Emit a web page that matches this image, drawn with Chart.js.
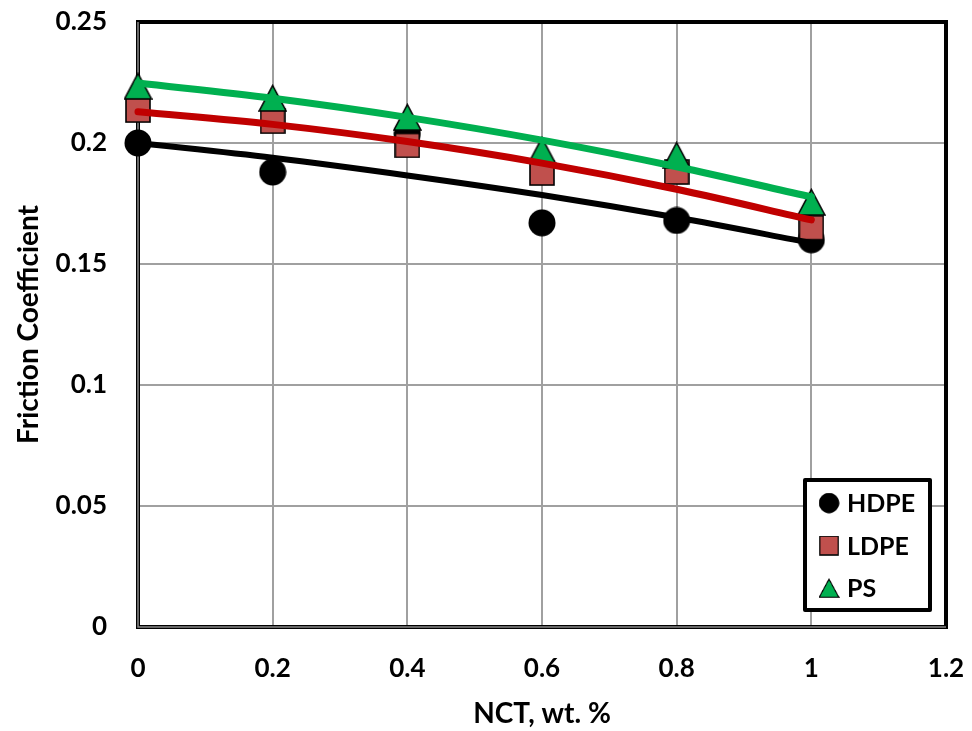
<!DOCTYPE html>
<html>
<head>
<meta charset="utf-8">
<script src="https://cdn.jsdelivr.net/npm/chart.js@4.4.1/dist/chart.umd.min.js"></script>
<style>
  html, body { margin: 0; padding: 0; background: #fff; }
  #wrap { width: 972px; height: 731px; }
</style>
</head>
<body>
<div id="wrap"><canvas id="c" width="972" height="731"></canvas></div>
<script>
// NCT loading (wt. %) and measured friction coefficients
const nct = [0, 0.2, 0.4, 0.6, 0.8, 1.0];
const hdpe = [0.200, 0.188, 0.204, 0.167, 0.168, 0.160];
const ldpe = [0.2136, 0.209, 0.199, 0.1876, 0.188, 0.165];
const ps   = [0.2236, 0.2186, 0.2107, 0.197, 0.195, 0.1756];

// Trend curves through the same NCT levels
const hdpeFit = [0.200, 0.1939, 0.1866, 0.1785, 0.1692, 0.1587];
const ldpeFit = [0.2129, 0.2077, 0.2006, 0.1917, 0.1809, 0.1682];
const psFit   = [0.2248, 0.2185, 0.2106, 0.2012, 0.1902, 0.1777];

const seriesNames = ['HDPE', 'LDPE', 'PS'];

// Axis ticks
const xTickValues = [0, 0.2, 0.4, 0.6, 0.8, 1.0, 1.2];
const xTickLabels = ['0', '0.2', '0.4', '0.6', '0.8', '1', '1.2'];
const yTickValues = [0, 0.05, 0.1, 0.15, 0.2, 0.25];
const yTickLabels = ['0', '0.05', '0.1', '0.15', '0.2', '0.25'];

const FONT = 'Lato, "Open Sans", "DejaVu Sans", sans-serif';

function pts(xs, ys) {
  return xs.map((x, i) => ({ x: x, y: ys[i] }));
}

// Marker sprites, centred on their bounding box
function circleMarker(d) {
  const c = document.createElement('canvas');
  c.width = d; c.height = d;
  const g = c.getContext('2d');
  g.fillStyle = '#000';
  g.beginPath();
  g.arc(d / 2, d / 2, d / 2 - 0.5, 0, Math.PI * 2);
  g.fill();
  return c;
}
function squareMarker(s) {
  const c = document.createElement('canvas');
  c.width = s; c.height = s;
  const g = c.getContext('2d');
  g.fillStyle = '#C0504D';
  g.fillRect(1, 1, s - 2, s - 2);
  g.strokeStyle = '#000';
  g.lineWidth = 1.6;
  g.strokeRect(1, 1, s - 2, s - 2);
  return c;
}
function triangleMarker(w, h) {
  const c = document.createElement('canvas');
  c.width = w; c.height = h;
  const g = c.getContext('2d');
  g.fillStyle = '#00B050';
  g.strokeStyle = '#000';
  g.lineWidth = 1.6;
  g.beginPath();
  g.moveTo(w / 2, 1.5);
  g.lineTo(w - 1, h - 1);
  g.lineTo(1, h - 1);
  g.closePath();
  g.fill();
  g.stroke();
  return c;
}

const markers = [circleMarker(28), squareMarker(26), triangleMarker(29, 28)];

// Plot frame: heavy black border with grey axis lines on left and bottom
const framePlugin = {
  id: 'frame',
  beforeDatasetsDraw(chart) {
    const { ctx, chartArea: a } = chart;
    ctx.save();
    ctx.strokeStyle = '#000';
    ctx.lineWidth = 4;
    ctx.strokeRect(a.left, a.top, a.right - a.left, a.bottom - a.top);
    ctx.strokeStyle = '#8a8a8a';
    ctx.lineWidth = 1.5;
    ctx.beginPath();
    ctx.moveTo(a.left, a.top);
    ctx.lineTo(a.left, a.bottom);
    ctx.lineTo(a.right, a.bottom);
    ctx.stroke();
    ctx.restore();
  }
};

// Boxed legend inside the lower right of the plot
const legendBoxPlugin = {
  id: 'legendBox',
  afterDatasetsDraw(chart) {
    const { ctx } = chart;
    const box = { x: 805, y: 480, w: 125, h: 130 };
    ctx.save();
    ctx.fillStyle = '#fff';
    ctx.fillRect(box.x, box.y, box.w, box.h);
    ctx.strokeStyle = '#000';
    ctx.lineWidth = 4;
    ctx.lineJoin = 'round';
    ctx.strokeRect(box.x, box.y, box.w, box.h);
    const sizes = [[21, 21], [20, 20], [21, 20]];
    ctx.font = 'bold 25px ' + FONT;
    ctx.fillStyle = '#000';
    ctx.textBaseline = 'middle';
    ctx.textAlign = 'left';
    seriesNames.forEach((name, i) => {
      const cy = 503 + i * 42.5;
      const [w, h] = sizes[i];
      ctx.drawImage(markers[i], 829 - w / 2, cy - h / 2, w, h);
      ctx.fillText(name, 847, cy + 1);
    });
    ctx.restore();
  }
};

const fitStyle = (color, width) => ({
  showLine: true,
  borderColor: color,
  backgroundColor: color,
  borderWidth: width,
  borderCapStyle: 'round',
  borderJoinStyle: 'round',
  pointRadius: 0,
  pointHoverRadius: 0,
  cubicInterpolationMode: 'monotone',
  clip: false
});

new Chart(document.getElementById('c'), {
  type: 'scatter',
  data: {
    datasets: [
      Object.assign({ label: 'HDPE trend', data: pts(nct, hdpeFit), order: 3 }, fitStyle('#000000', 6)),
      Object.assign({ label: 'LDPE trend', data: pts(nct, ldpeFit), order: 2 }, fitStyle('#C00000', 7)),
      Object.assign({ label: 'PS trend', data: pts(nct, psFit), order: 1 }, fitStyle('#00B050', 7)),
      { label: seriesNames[0], data: pts(nct, hdpe), pointStyle: markers[0], pointRadius: 14, order: 6, clip: false },
      { label: seriesNames[1], data: pts(nct, ldpe), pointStyle: markers[1], pointRadius: 13, order: 5, clip: false },
      { label: seriesNames[2], data: pts(nct, ps), pointStyle: markers[2], pointRadius: 14, order: 4, clip: false }
    ]
  },
  options: {
    responsive: false,
    animation: false,
    events: [],
    layout: { padding: { top: 22, right: 26, left: 0, bottom: 0 } },
    plugins: {
      legend: { display: false },
      tooltip: { enabled: false }
    },
    scales: {
      x: {
        type: 'linear',
        min: 0,
        max: 1.2,
        afterBuildTicks(scale) { scale.ticks = xTickValues.map(v => ({ value: v })); },
        afterFit(scale) {
          scale.height = 104;
          scale.paddingLeft = 0;
          scale.paddingRight = 0;
        },
        ticks: {
          padding: 26,
          color: '#000',
          font: { family: FONT, size: 26, weight: 'bold' },
          maxRotation: 0,
          autoSkip: false,
          callback: (v, i) => xTickLabels[i]
        },
        grid: { color: '#a0a0a0', lineWidth: 2, drawTicks: false },
        border: { display: false },
        title: {
          display: true,
          text: 'NCT, wt. %',
          color: '#000',
          font: { family: FONT, size: 28, weight: 'bold' },
          padding: { top: 0, bottom: 0 }
        }
      },
      y: {
        type: 'linear',
        min: 0,
        max: 0.25,
        afterBuildTicks(scale) { scale.ticks = yTickValues.map(v => ({ value: v })); },
        afterFit(scale) {
          scale.width = 138;
          scale.paddingTop = 0;
          scale.paddingBottom = 0;
        },
        ticks: {
          padding: 31,
          color: '#000',
          font: { family: FONT, size: 26, weight: 'bold' },
          autoSkip: false,
          callback: (v, i) => yTickLabels[i]
        },
        grid: { color: '#a0a0a0', lineWidth: 2, drawTicks: false },
        border: { display: false },
        title: {
          display: true,
          text: 'Friction Coefficient',
          color: '#000',
          font: { family: FONT, size: 28, weight: 'bold' },
          padding: { top: 12, bottom: 0 }
        }
      }
    }
  },
  plugins: [framePlugin, legendBoxPlugin]
});
</script>
</body>
</html>
